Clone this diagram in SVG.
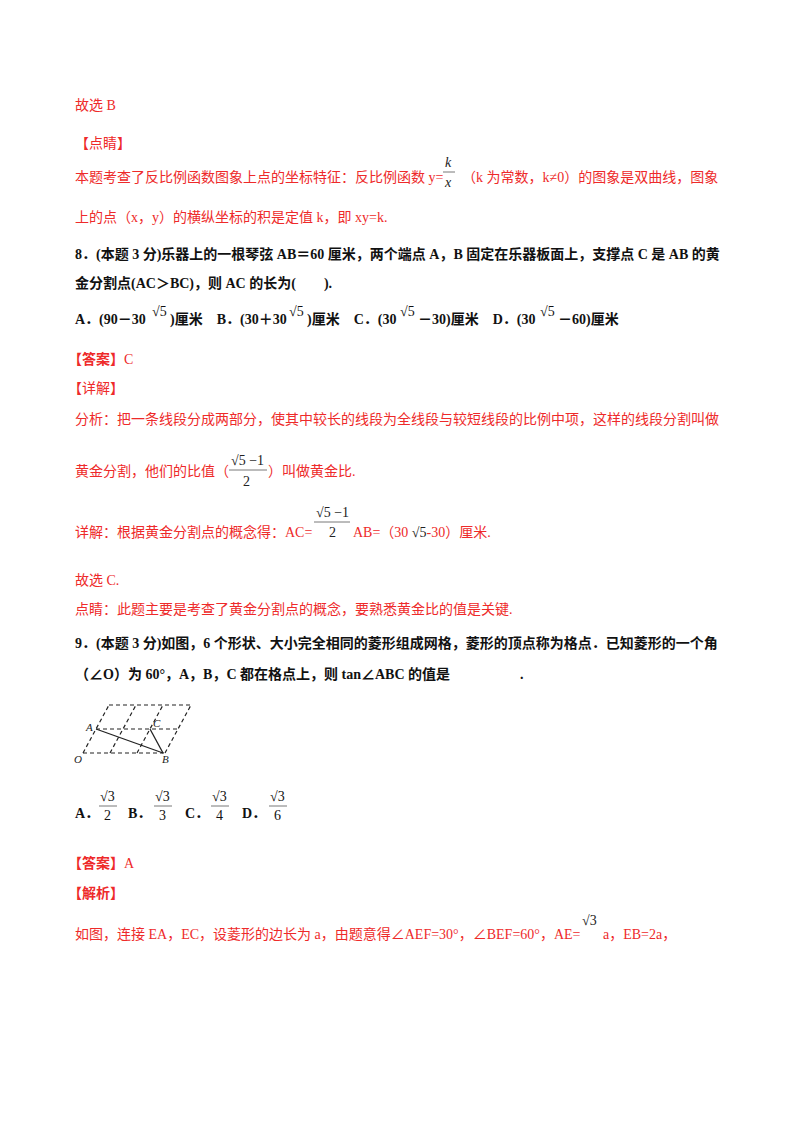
<svg xmlns="http://www.w3.org/2000/svg" width="800" height="1132" viewBox="0 0 800 1132">
<style>
text{font-family:"Liberation Serif","Noto Sans CJK SC",serif;font-size:14px}
.r{fill:#ee2a2a}
.k{fill:#111}
.b{font-weight:bold}
.d{stroke:#222;stroke-width:1.2;stroke-dasharray:4,3;fill:none}
.s{stroke:#222;stroke-width:1.3}
.fl{stroke:#555;stroke-width:0.8}
.it{font-style:italic}
</style>
<rect width="800" height="1132" fill="#fff"/>
<text class="r" x="75" y="110">故选 B</text>
<text class="r" x="75" y="148">【点睛】</text>
<text class="r" x="75" y="182">本题考查了反比例函数图象上点的坐标特征：反比例函数 y=</text>
<text class="r it" x="445" y="167" fill="#222" style="fill:#222">k</text>
<line class="fl" x1="443" y1="172" x2="455" y2="172"/>
<text class="it" x="445" y="187" style="fill:#222">x</text>
<text class="r" x="462" y="182">（k 为常数，k≠0）的图象是双曲线，图象</text>
<text class="r" x="75" y="222">上的点（x，y）的横纵坐标的积是定值 k，即 xy=k.</text>
<text class="k b" x="75" y="259">8．(本题 3 分)乐器上的一根琴弦 AB＝60 厘米，两个端点 A，B 固定在乐器板面上，支撑点 C 是 AB 的黄</text>
<text class="k b" x="75" y="288">金分割点(AC＞BC)，则 AC 的长为(　　).</text>
<g class="k b">
<text x="75" y="324">A．(90－30</text>
<text x="152" y="316" style="font-weight:normal">√5</text>
<text x="170" y="324">)厘米　B．(30＋30</text>
<text x="289" y="316" style="font-weight:normal">√5</text>
<text x="307" y="324">)厘米　C．(30</text>
<text x="400" y="316" style="font-weight:normal">√5</text>
<text x="418" y="324">－30)厘米　D．(30</text>
<text x="540" y="316" style="font-weight:normal">√5</text>
<text x="558" y="324">－60)厘米</text>
</g>
<text class="r b" x="68" y="364">【答案】<tspan style="font-weight:normal">C</tspan></text>
<text class="r" x="68" y="393">【详解】</text>
<text class="r" x="75" y="424">分析：把一条线段分成两部分，使其中较长的线段为全线段与较短线段的比例中项，这样的线段分割叫做</text>
<text class="r" x="75" y="476">黄金分割，他们的比值（</text>
<text x="231" y="465" style="fill:#222">√5 −1</text>
<line class="fl" x1="229" y1="470" x2="267" y2="470"/>
<text x="243" y="486" style="fill:#222">2</text>
<text class="r" x="268" y="476">）叫做黄金比.</text>
<text class="r" x="75" y="537">详解：根据黄金分割点的概念得：AC=</text>
<text x="316" y="517" style="fill:#222">√5 −1</text>
<line class="fl" x1="314" y1="522" x2="350" y2="522"/>
<text x="329" y="537" style="fill:#222">2</text>
<text class="r" x="353" y="537">AB=（30 <tspan style="fill:#222">√5</tspan>-30）厘米.</text>
<text class="r" x="75" y="585">故选 C.</text>
<text class="r" x="75" y="614">点睛：此题主要是考查了黄金分割点的概念，要熟悉黄金比的值是关键.</text>
<text class="k b" x="75" y="648">9．(本题 3 分)如图，6 个形状、大小完全相同的菱形组成网格，菱形的顶点称为格点．已知菱形的一个角</text>
<text class="k b" x="75" y="679">（∠O）为 60°，A，B，C 都在格点上，则 tan∠ABC 的值是　　　　　.</text>
<g id="figure">
<line class="d" x1="109" y1="705" x2="191" y2="705"/>
<line class="d" x1="96" y1="729" x2="178" y2="729"/>
<line class="d" x1="83" y1="753" x2="165" y2="753"/>
<line class="d" x1="83" y1="753" x2="109" y2="705"/>
<line class="d" x1="110" y1="753" x2="136" y2="705"/>
<line class="d" x1="137" y1="753" x2="163" y2="705"/>
<line class="d" x1="165" y1="753" x2="191" y2="705"/>
<line class="s" x1="96" y1="729" x2="163" y2="753"/>
<line class="s" x1="150" y1="729" x2="163" y2="753"/>
<text class="it" x="86" y="731" style="font-size:11px;fill:#222">A</text>
<text class="it" x="153" y="727" style="font-size:11px;fill:#222">C</text>
<text class="it" x="74" y="763" style="font-size:11px;fill:#222">O</text>
<text class="it" x="162" y="763" style="font-size:11px;fill:#222">B</text>
</g>
<g class="k">
<text class="b" x="75" y="818">A．</text>
<text x="100" y="801">√3</text><line class="fl" x1="99" y1="806" x2="117" y2="806"/><text x="104" y="820">2</text>
<text class="b" x="128" y="818">B．</text>
<text x="155" y="801">√3</text><line class="fl" x1="154" y1="806" x2="172" y2="806"/><text x="159" y="820">3</text>
<text class="b" x="185" y="818">C．</text>
<text x="212" y="801">√3</text><line class="fl" x1="211" y1="806" x2="229" y2="806"/><text x="216" y="820">4</text>
<text class="b" x="242" y="818">D．</text>
<text x="270" y="801">√3</text><line class="fl" x1="269" y1="806" x2="287" y2="806"/><text x="274" y="820">6</text>
</g>
<text class="r b" x="68" y="868">【答案】<tspan style="font-weight:normal">A</tspan></text>
<text class="r b" x="68" y="898">【解析】</text>
<text class="r" x="75" y="939">如图，连接 EA，EC，设菱形的边长为 a，由题意得∠AEF=30°，∠BEF=60°，AE=</text>
<text x="582" y="925" style="fill:#222">√3</text>
<text class="r" x="603" y="939">a，EB=2a，</text>
</svg>
